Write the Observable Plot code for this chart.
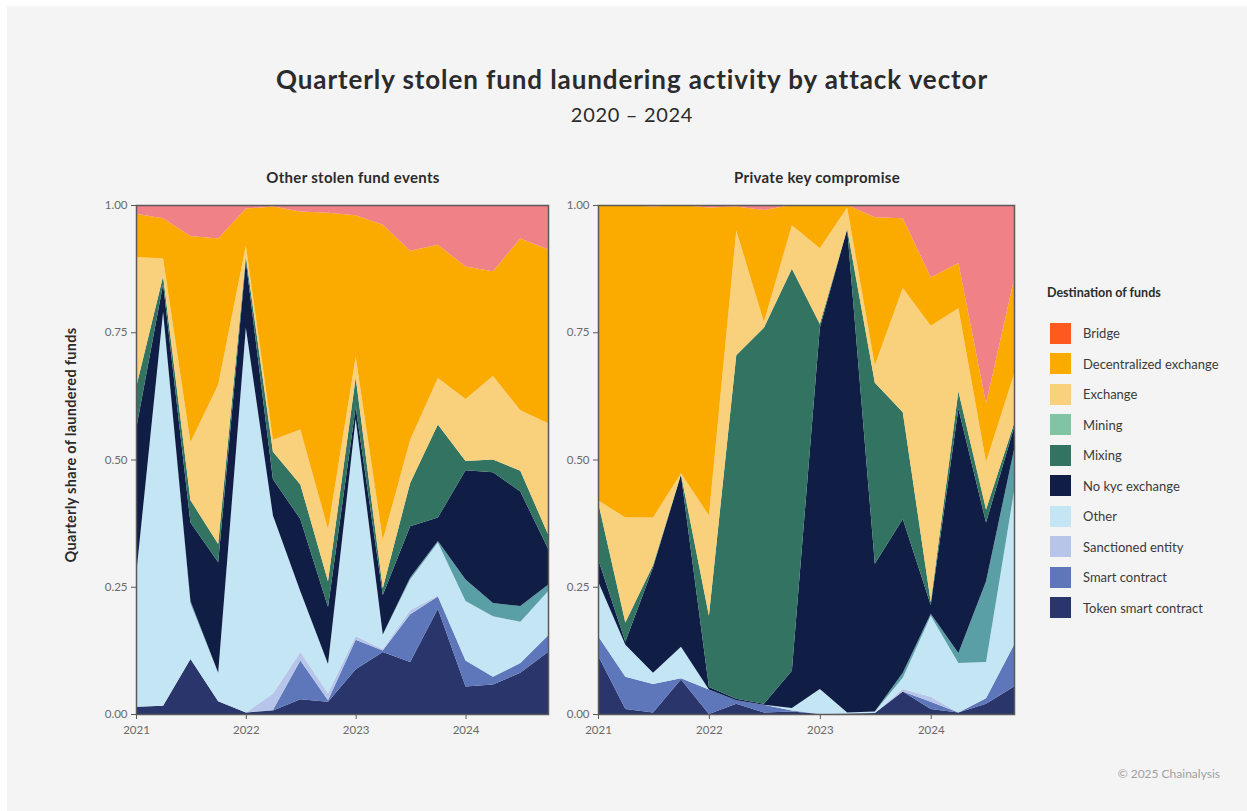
<!DOCTYPE html>
<html>
<head>
<meta charset="utf-8">
<script src="https://cdn.jsdelivr.net/npm/d3@7"></script>
<script src="https://cdn.jsdelivr.net/npm/@observablehq/plot@0.6"></script>
<style>
  html, body { margin: 0; padding: 0; background: #ffffff; }
  #page { position: relative; width: 1247px; height: 811px; overflow: hidden; font-family: Lato, "Open Sans", sans-serif; }
  #panel { position: absolute; left: 7px; top: 6px; right: 0; bottom: 0; background: #f4f4f4; }
  .abs { position: absolute; white-space: nowrap; }
  #title { left: 632px; top: 63px; transform: translateX(-50%); font-size: 26px; letter-spacing: 0.9px; font-weight: 700; color: #2b2b2b; }
  #subtitle { left: 632px; top: 102px; transform: translateX(-50%); font-size: 20px; letter-spacing: 0.7px; color: #2b2b2b; }
  .facet { top: 168px; font-size: 15px; letter-spacing: 0.3px; font-weight: 700; color: #2b2b2b; transform: translateX(-50%); }
  #ylab { left: 70px; top: 445px; font-size: 14.5px; letter-spacing: 0.3px; font-weight: 700; color: #2b2b2b; transform: translate(-50%, -50%) rotate(-90deg); }
  #legend { left: 1047px; top: 285px; }
  #legend .lt { font-size: 12.5px; font-weight: 700; color: #2b2b2b; margin-bottom: 18px; }
  #legend .item { display: flex; align-items: center; height: 30.5px; margin-left: 3px; }
  #legend .sw { width: 21px; height: 21px; margin-right: 12px; }
  #legend .lab { font-size: 13px; color: #3a3a3a; }
  #caption { right: 27px; top: 766px; font-size: 12px; color: #a0a0a0; }
  .chart { position: absolute; top: 195px; }
</style>
</head>
<body>
<div id="page">
  <div id="panel"></div>
  <div id="title" class="abs">Quarterly stolen fund laundering activity by attack vector</div>
  <div id="subtitle" class="abs">2020 – 2024</div>
  <div class="abs facet" style="left:353px">Other stolen fund events</div>
  <div class="abs facet" style="left:817px">Private key compromise</div>
  <div id="ylab" class="abs">Quarterly share of laundered funds</div>
  <div id="left" class="chart" style="left:86px"></div>
  <div id="right" class="chart" style="left:548px"></div>
  <div id="legend" class="abs"></div>
  <div id="caption" class="abs">© 2025 Chainalysis</div>
</div>
<script>
// ---------- data ----------
const quarters = ["2021-01-01","2021-04-01","2021-07-01","2021-10-01",
                  "2022-01-01","2022-04-01","2022-07-01","2022-10-01",
                  "2023-01-01","2023-04-01","2023-07-01","2023-10-01",
                  "2024-01-01","2024-04-01","2024-07-01","2024-10-01"];

// stacking order, bottom to top
const seriesNames = ["Token smart contract","Smart contract","Sanctioned entity","Other","Gambling",
                     "No kyc exchange","Mixing","Mining","Exchange","Decentralized exchange","Bridge","Unidentified"];
const seriesColors = ["#29356b","#5e77bb","#b7c5ea","#c4e5f4","#5a9ea6",
                      "#101e46","#327362","#80c4a3","#f9d07c","#fbab00","#fe5a1d","#f08287"];
const legendNames = ["Bridge","Decentralized exchange","Exchange","Mining","Mixing","No kyc exchange",
                     "Other","Sanctioned entity","Smart contract","Token smart contract"];
const yTicks = [0, 0.25, 0.5, 0.75, 1];
const xTickYears = ["2021-01-01","2022-01-01","2023-01-01","2024-01-01"];

// Other stolen fund events
const otherToken      = [0.014,0.016,0.108,0.025,0.003,0.007,0.029,0.024,0.088,0.122,0.102,0.207,0.054,0.058,0.081,0.122];
const otherSmart      = [0,0,0,0,0,0.001,0.076,0.003,0.058,0.003,0.094,0.024,0.051,0.015,0.019,0.032];
const otherSanctioned = [0,0,0,0,0,0.032,0.017,0.014,0.007,0.002,0.008,0.002,0,0,0,0];
const otherOther      = [0.257,0.774,0.109,0.056,0.756,0.350,0.119,0.057,0.427,0.029,0.060,0.104,0.117,0.119,0.081,0.087];
const otherGambling   = [0,0,0.005,0,0,0,0,0,0,0,0.004,0.003,0.042,0.026,0.031,0.013];
const otherNoKyc      = [0.288,0.055,0.154,0.217,0.131,0.071,0.142,0.112,0.023,0.078,0.101,0.046,0.215,0.257,0.225,0.071];
const otherMixing     = [0.082,0.015,0.044,0.036,0.010,0.054,0.068,0.051,0.058,0.013,0.085,0.183,0.018,0.025,0.041,0.028];
const otherMining     = [0,0,0,0,0,0,0,0,0,0,0,0,0,0,0,0];
const otherExchange   = [0.257,0.035,0.114,0.313,0.020,0.024,0.108,0.102,0.041,0.095,0.085,0.091,0.122,0.164,0.119,0.218];
const otherDex        = [0.085,0.079,0.405,0.287,0.073,0.458,0.428,0.622,0.278,0.619,0.371,0.262,0.260,0.206,0.337,0.342];
const otherBridge     = [0,0,0,0,0,0,0,0,0,0,0,0,0,0,0,0];
const otherUnident    = [0.017,0.026,0.061,0.066,0.007,0.003,0.013,0.015,0.020,0.039,0.090,0.078,0.121,0.130,0.066,0.087];

// Private key compromise
const pkToken      = [0.115,0.010,0.003,0.068,0,0.020,0.003,0.005,0,0.001,0.002,0.044,0.010,0.003,0.020,0.054];
const pkSmart      = [0.038,0.063,0.056,0.002,0.048,0.007,0.015,0.002,0,0,0,0,0.014,0,0.011,0.082];
const pkSanctioned = [0,0,0,0,0,0,0,0,0,0,0,0.005,0.010,0,0,0];
const pkOther      = [0.108,0.063,0.022,0.062,0,0,0,0.005,0.049,0.002,0.003,0.022,0.159,0.097,0.071,0.301];
const pkGambling   = [0,0,0,0,0,0,0,0,0,0,0,0.010,0.004,0.020,0.159,0.082];
const pkNoKyc      = [0.044,0.006,0.207,0.338,0.005,0.003,0.002,0.073,0.710,0.950,0.290,0.302,0.017,0.480,0.115,0.044];
const pkMixing     = [0.112,0.038,0.004,0.001,0.140,0.675,0.739,0.790,0.007,0,0.356,0.210,0.006,0.034,0.026,0.007];
const pkMining     = [0,0,0,0,0,0,0,0,0,0,0,0,0,0,0,0];
const pkExchange   = [0.003,0.206,0.094,0.002,0.197,0.245,0.011,0.085,0.149,0.042,0.034,0.244,0.543,0.163,0.093,0.098];
const pkDex        = [0.580,0.614,0.611,0.527,0.605,0.047,0.220,0.040,0.085,0.005,0.291,0.137,0.095,0.089,0.115,0.186];
const pkBridge     = [0,0,0,0,0,0,0,0,0,0,0,0,0,0,0,0];
const pkUnident    = [0,0,0.003,0,0.005,0.003,0.010,0,0,0,0.024,0.026,0.142,0.114,0.390,0.146];

const otherSeries = [otherToken,otherSmart,otherSanctioned,otherOther,otherGambling,otherNoKyc,
                     otherMixing,otherMining,otherExchange,otherDex,otherBridge,otherUnident];
const pkSeries = [pkToken,pkSmart,pkSanctioned,pkOther,pkGambling,pkNoKyc,
                  pkMixing,pkMining,pkExchange,pkDex,pkBridge,pkUnident];

// ---------- build ----------
function toRows(seriesArrays) {
  const rows = [];
  seriesNames.forEach((name, s) => {
    quarters.forEach((q, i) => {
      rows.push({date: new Date(q + "T00:00:00Z"), dest: name, share: seriesArrays[s][i]});
    });
  });
  return rows;
}

function makeChart(rows, width) {
  const xt = xTickYears.map(d => new Date(d + "T00:00:00Z"));
  return Plot.plot({
    width: width,
    height: 554,
    marginLeft: 50,
    marginRight: 10,
    marginTop: 10,
    marginBottom: 35,
    style: {background: "transparent", fontFamily: "Lato, 'Open Sans', sans-serif", fontSize: "11.5px", color: "#6a6a6a", overflow: "visible"},
    x: {type: "utc", domain: [new Date(quarters[0] + "T00:00:00Z"), new Date(quarters[quarters.length - 1] + "T00:00:00Z")], label: null},
    y: {domain: [0, 1], label: null},
    color: {domain: seriesNames, range: seriesColors},
    marks: [
      Plot.areaY(rows, {x: "date", y: "share", z: "dest", fill: "dest", order: seriesNames, curve: "linear"}),
      Plot.frame({stroke: "#5a5a5a", strokeWidth: 1.5}),
      Plot.axisX({ticks: xt, tickFormat: d3.utcFormat("%Y"), tickSize: 5, tickPadding: 6, stroke: "#5a5a5a", label: null}),
      Plot.axisY({ticks: yTicks, tickFormat: d3.format(".2f"), tickSize: 5, tickPadding: 4, stroke: "#5a5a5a", label: null})
    ]
  });
}

document.getElementById("left").appendChild(makeChart(toRows(otherSeries), 472));
document.getElementById("right").appendChild(makeChart(toRows(pkSeries), 476));

// legend
const legend = document.getElementById("legend");
const lt = document.createElement("div");
lt.className = "lt";
lt.textContent = "Destination of funds";
legend.appendChild(lt);
legendNames.forEach(name => {
  const item = document.createElement("div");
  item.className = "item";
  const sw = document.createElement("div");
  sw.className = "sw";
  sw.style.background = seriesColors[seriesNames.indexOf(name)];
  const lab = document.createElement("div");
  lab.className = "lab";
  lab.textContent = name;
  item.appendChild(sw);
  item.appendChild(lab);
  legend.appendChild(item);
});
</script>
</body>
</html>
